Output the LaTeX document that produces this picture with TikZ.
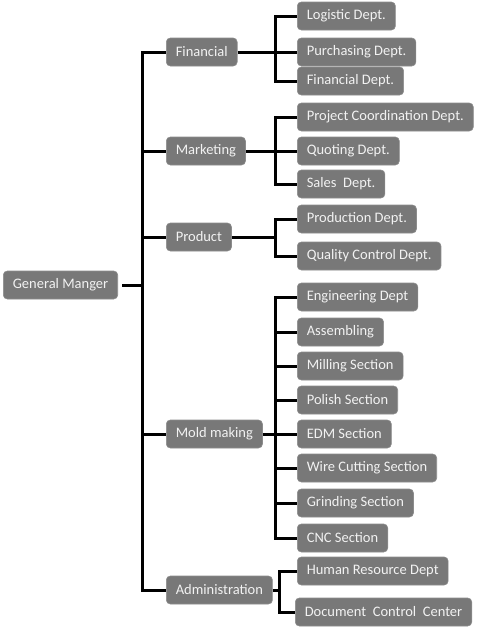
\documentclass[tikz,border=0pt]{standalone}
\usepackage{fontspec}
\setmainfont{Carlito}
\definecolor{boxgray}{RGB}{120,120,120}
\definecolor{boxtext}{RGB}{242,242,242}
\begin{document}
\begin{tikzpicture}[
  x=1pt, y=-1pt,
  dept/.style={rectangle, rounded corners=4pt, fill=boxgray, draw=boxgray!85!white,
    line width=0.6pt, text=boxtext, font=\fontsize{14.5}{17}\selectfont,
    minimum height=28pt, inner xsep=9.5pt, anchor=west},
  link/.style={line width=3pt, black}
]
  \useasboundingbox (0,0) rectangle (480,632);
  \node[dept] (gm) at (3,285) {General Manger};

  \node[dept] (fin) at (166,52) {Financial};
  \node[dept] (mkt) at (166,151) {Marketing};
  \node[dept] (prd) at (166,237) {Product};
  \node[dept] (mld) at (166,434) {Mold making};
  \node[dept] (adm) at (166,590) {Administration};

  \node[dept] (log) at (297,16) {Logistic Dept.};
  \node[dept] (pur) at (297,52) {Purchasing Dept.};
  \node[dept] (fdp) at (297,81) {Financial Dept.};

  \node[dept] (pcd) at (297,117) {Project Coordination Dept.};
  \node[dept] (quo) at (297,151) {Quoting Dept.};
  \node[dept] (sal) at (297,184) {Sales\ \ Dept.};

  \node[dept] (pro) at (297,219) {Production Dept.};
  \node[dept] (qcd) at (297,256) {Quality Control Dept.};

  \node[dept] (eng) at (297,297) {Engineering Dept};
  \node[dept] (asm) at (297,332) {Assembling};
  \node[dept] (mil) at (297,366) {Milling Section};
  \node[dept] (pol) at (297,400) {Polish Section};
  \node[dept] (edm) at (297,434) {EDM Section};
  \node[dept] (wir) at (297,468) {Wire Cutting Section};
  \node[dept] (gri) at (297,503) {Grinding Section};
  \node[dept] (cnc) at (297,538) {CNC Section};

  \node[dept] (hrd) at (297,571) {Human Resource Dept};
  \node[dept] (dcc) at (295,612) {Document\ \ Control\ \ Center};

  % trunk
  \coordinate (trunk) at (142,0);
  \draw[link, shorten <=4pt] (gm.east) -- (trunk |- gm.east);
  \draw[link] (fin.west) -| (trunk |- adm.west) -- (adm.west);
  \draw[link] (trunk |- mkt.west) -- (mkt.west);
  \draw[link] (trunk |- prd.west) -- (prd.west);
  \draw[link] (trunk |- mld.west) -- (mld.west);

  % forks
  \coordinate (fork) at (275,0);
  \draw[link] (fin.east) -- (fork |- fin.east);
  \draw[link] (log.west) -| (fork |- fdp.west) -- (fdp.west);
  \draw[link] (fork |- pur.west) -- (pur.west);

  \draw[link] (mkt.east) -- (fork |- mkt.east);
  \draw[link] (pcd.west) -| (fork |- sal.west) -- (sal.west);
  \draw[link] (fork |- quo.west) -- (quo.west);

  \draw[link] (prd.east) -- (fork |- prd.east);
  \draw[link] (pro.west) -| (fork |- qcd.west) -- (qcd.west);

  \draw[link] (mld.east) -- (fork |- mld.east);
  \draw[link] (eng.west) -| (fork |- cnc.west) -- (cnc.west);
  \draw[link] (fork |- asm.west) -- (asm.west);
  \draw[link] (fork |- mil.west) -- (mil.west);
  \draw[link] (fork |- pol.west) -- (pol.west);
  \draw[link] (fork |- edm.west) -- (edm.west);
  \draw[link] (fork |- wir.west) -- (wir.west);
  \draw[link] (fork |- gri.west) -- (gri.west);

  \coordinate (afork) at (279,0);
  \draw[link] (adm.east) -- (afork |- adm.east);
  \draw[link] (hrd.west) -| (afork |- dcc.west) -- (dcc.west);
\end{tikzpicture}
\end{document}
